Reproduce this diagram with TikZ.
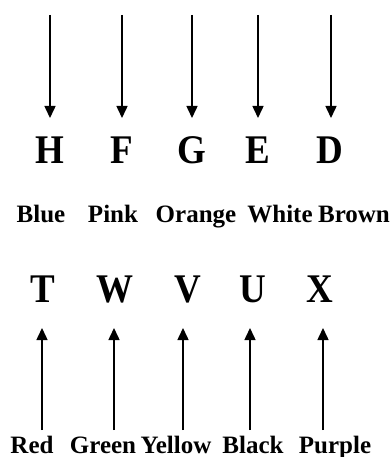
\documentclass[tikz,border=0pt]{standalone}
\usepackage{fontspec}
\usepackage{graphicx}
\setmainfont{Liberation Serif}
\usetikzlibrary{arrows.meta}
\newcommand{\tallish}[1]{\scalebox{1}[1.1]{#1}}
\begin{document}
\begin{tikzpicture}[x=1pt,y=-1pt,
  letter/.style={font=\fontsize{37}{37}\selectfont\bfseries, inner sep=0pt, anchor=base},
  word/.style={font=\fontsize{25}{25}\selectfont\bfseries, inner sep=0pt, anchor=base},
  arr/.style={line width=1.5pt, -{Triangle[width=11pt,length=12pt]}}]
\useasboundingbox (0,0) rectangle (391,457);
% top letters
\node[letter] (H) at (50,164) {\tallish{H}};
\node[letter] (F) at (122,164) {\tallish{F}};
\node[letter] (G) at (192,164) {\tallish{G}};
\node[letter] (E) at (258,164) {\tallish{E}};
\node[letter] (D) at (330,164) {\tallish{D}};
% words
\node[word] (blue) at (41,222) {Blue};
\node[word] (pink) at (113,222) {Pink};
\node[word] (orange) at (196,222) {Orange};
\node[word] (white) at (280,222) {White};
\node[word] (brown) at (354,222) {Brown};
% second letters
\node[letter] (T) at (43,302) {\tallish{T}};
\node[letter] (W) at (115,302) {\tallish{W}};
\node[letter] (V) at (188,302) {\tallish{V}};
\node[letter] (U) at (253,302) {\tallish{U}};
\node[letter] (X) at (320,302) {\tallish{X}};
% bottom words
\node[word] (red) at (32,453) {Red};
\node[word] (green) at (103,453) {Green};
\node[word] (yellow) at (176,453) {Yellow};
\node[word] (black) at (253,453) {Black};
\node[word] (purple) at (335,453) {Purple};
% arrows
\foreach \n/\x in {1/50,2/122,3/192,4/258,5/331}{
  \coordinate (ts\n) at (\x,15);
  \coordinate (te\n) at (\x,118);
  \draw[arr] (ts\n) -- (te\n);
}
\foreach \n/\x in {1/42,2/114,3/183,4/250,5/323}{
  \coordinate (bs\n) at (\x,430);
  \coordinate (be\n) at (\x,328);
  \draw[arr] (bs\n) -- (be\n);
}
\end{tikzpicture}
\end{document}
